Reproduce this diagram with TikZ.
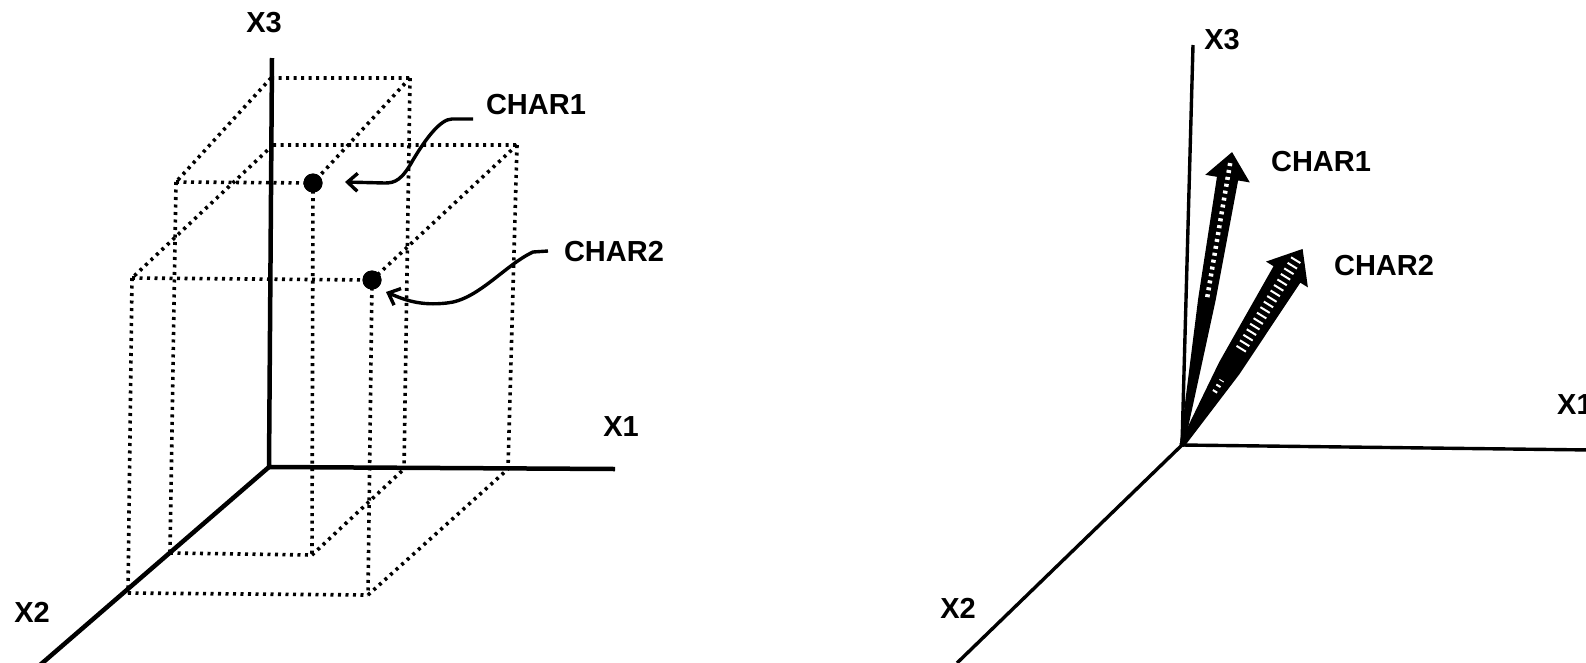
\documentclass[tikz,border=0pt]{standalone}
\usepackage{fontspec}
\setmainfont{Liberation Sans}
\usetikzlibrary{arrows.meta}
\begin{document}
\begin{tikzpicture}[x=1pt,y=-1pt,
  axis/.style={line width=4.5pt},
  raxis/.style={line width=3.4pt},
  dotline/.style={line width=3.6pt, dash pattern=on 3pt off 4.5pt},
  lbl/.style={font=\fontsize{29}{30}\selectfont\bfseries, inner sep=0pt},
  pointer/.style={line width=3.4pt, -{Straight Barb[length=10pt,width=18pt,line width=3.4pt]}},
  dotnode/.style={circle, fill=black, inner sep=0pt, minimum size=19pt},
  vecfill/.style={fill=black, draw=black, line width=1.5pt, line join=miter}]
\useasboundingbox (0,0) rectangle (1586,662);

% ---------------- left diagram ----------------
\coordinate (O) at (269,467);
\coordinate (X3top) at (272,58);
\coordinate (X1end) at (615,469);
\coordinate (X2end) at (40,665);

% box 1
\coordinate (A1) at (271,78);
\coordinate (B1) at (410,78);
\coordinate (C1) at (176,182);
\coordinate (E1) at (170,553);
\coordinate (F1) at (312,555);
\coordinate (G1) at (404,469);
\node[dotnode] (d1) at (313,183) {};
% box 2
\coordinate (A2) at (273,145);
\coordinate (B2) at (517,145);
\coordinate (C2) at (132,278);
\coordinate (E2) at (128,593);
\coordinate (F2) at (368,595);
\coordinate (G2) at (508,469);
\node[dotnode] (d2) at (372,280) {};

\draw[dotline] (A1) -- (B1) (A1) -- (C1) (B1) -- (d1.center) (C1) -- (d1.center)
  (C1) -- (E1) (d1.center) -- (F1) (B1) -- (G1) (E1) -- (F1) (F1) -- (G1);
\draw[dotline] (A2) -- (B2) (A2) -- (C2) (B2) -- (d2.center) (C2) -- (d2.center)
  (C2) -- (E2) (d2.center) -- (F2) (B2) -- (G2) (E2) -- (F2) (F2) -- (G2);

\draw[axis] (X3top) -- (O) -- (X1end);
\draw[axis] (O) -- (X2end);
\node[dotnode] at (d1) {};
\node[dotnode] at (d2) {};

\node[lbl] (lX3) at (264,23) {X3};
\node[lbl] (lX1) at (621,427) {X1};
\node[lbl] (lX2) at (32,612) {X2};
\node[lbl] (lC1) at (536,105) {CHAR1};
\node[lbl] (lC2) at (614,252) {CHAR2};

\coordinate (p1a) at (473,119);
\coordinate (p1b) at (452,119);
\coordinate (p1c) at (413,160);
\coordinate (p1t) at (345,182);
\draw[pointer] (p1a) -- (p1b) .. controls (440,119) and (425,140) .. (p1c)
  .. controls (402,180) and (395,183) .. (385,183) -- (p1t);

\coordinate (p2a) at (548,251);
\coordinate (p2b) at (533,252);
\coordinate (p2c) at (447,303);
\coordinate (p2t) at (386,292);
\draw[pointer] (p2a) -- (p2b) .. controls (505,265) and (478,300) .. (p2c)
  .. controls (420,306) and (405,300) .. (p2t);

% ---------------- right diagram ----------------
\coordinate (RO) at (1182,445);
\coordinate (RX3) at (1193,45);
\coordinate (RX1) at (1592,450);
\coordinate (RX2) at (957,663);
\draw[raxis] (RX3) -- (RO) -- (RX1);
\draw[raxis] (RO) -- (RX2);

% vector CHAR1
\begin{scope}[shift={(RO)}, rotate=80.3]
  \filldraw[vecfill] (0,-1.5) -- (148,-8) -- (271,-10) -- (271,-21) -- (296,0)
    -- (271,21) -- (271,10) -- (148,8) -- (0,1.5) -- cycle;
  \draw[white, line width=4.5pt, dash pattern=on 3pt off 4pt] (150,0) -- (288,0);
\end{scope}
% vector CHAR2
\begin{scope}[shift={(RO)}, rotate=58.4]
  \filldraw[vecfill] (0,-2) -- (90,-11) -- (201,-15) -- (201,-23) -- (229,0)
    -- (201,23) -- (201,15) -- (90,11) -- (0,2) -- cycle;
  \draw[white, line width=11pt, dash pattern=on 2pt off 4.5pt] (112,0) -- (218,0);
  \draw[white, line width=5pt, dash pattern=on 2pt off 4.5pt] (62,0) -- (76,0);
\end{scope}

\node[lbl] (rX3) at (1222,40) {X3};
\node[lbl, anchor=west] (rX1) at (1557,405) {X1};
\node[lbl] (rX2) at (958,608) {X2};
\node[lbl] (rC1) at (1321,162) {CHAR1};
\node[lbl] (rC2) at (1384,266) {CHAR2};
\end{tikzpicture}
\end{document}
